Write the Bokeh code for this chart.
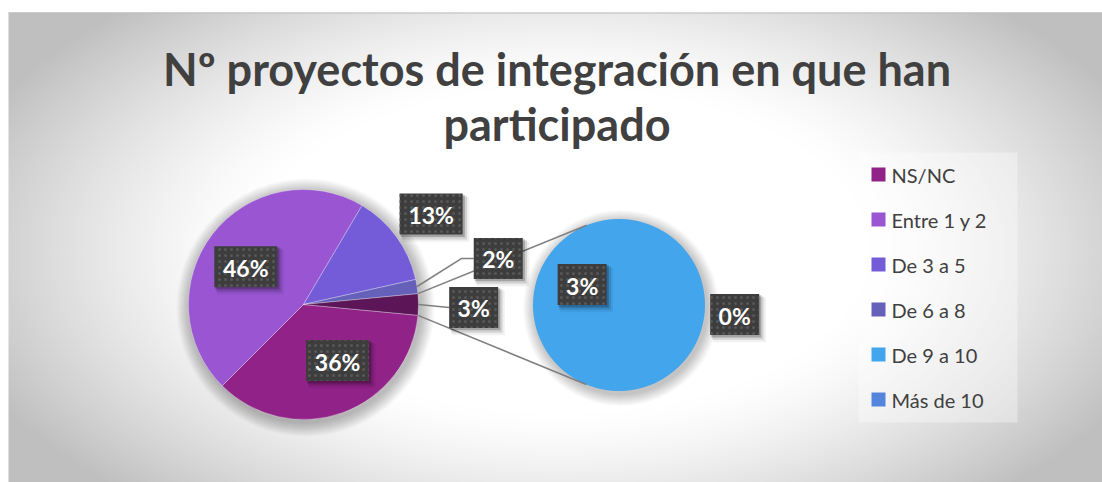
import numpy as np
from bokeh.plotting import figure
from bokeh.models import Range1d
from bokeh.embed import file_html
from bokeh.resources import INLINE
from bokeh.core.properties import value

# ---------------- data ----------------
categories = ["NS/NC", "Entre 1  y 2", "De 3  a 5", "De 6 a 8", "De 9 a 10", "Más de 10"]
percentages = [36, 46, 13, 2, 3, 0]
slice_colors = ["#912288", "#9955D2", "#745CD9", "#6561BB", "#43A5EC", "#5485DC"]
other_color = "#5C1657"
n_main = 4  # first categories in the main pie, the rest in the secondary pie
title_lines = ["Nº proyectos de integración en que han", "participado"]

# ---------------- style / layout ----------------
W, H = 1102, 482
FONT = "Lato"
TXT = "#404040"

p = figure(width=W, height=H, x_range=Range1d(0, W), y_range=Range1d(0, H),
           output_backend="svg", toolbar_location=None, min_border=0,
           x_axis_type=None, y_axis_type=None)
p.grid.visible = False
p.outline_line_color = None
p.background_fill_color = "white"
p.border_fill_color = "white"

# background radial gradient of the chart area (starts at x=8, 12px below top)
gx0, gw, gh = 8, W - 8, H - 12
yy, xx = np.mgrid[0:gh, 0:gw]
px = xx + gx0 + 0.5
py = H - (yy + 0.5)
d = np.sqrt(((px - 560) / 620.0) ** 2 + ((py - 250) / 330.0) ** 2)
t = np.clip((d - 0.5) / 0.52, 0, 1)
g = (255 - 64 * t ** 1.3).astype(np.uint32)
img = (np.uint32(255) << 24) | (g << 16) | (g << 8) | g
p.image_rgba(image=[img], x=gx0, y=0, dw=gw, dh=gh)
p.segment(x0=[gx0], y0=[gh - 0.5], x1=[W], y1=[gh - 0.5], line_color="#bdbdbd", line_width=1)

# title
title_x = 556.5
title_y = [414, 359]
p.text(x=[title_x] * len(title_lines), y=title_y, text=title_lines,
       text_font=value(FONT), text_font_style="bold", text_font_size="45px",
       text_color=TXT, text_align="center", text_baseline="middle")

# ---------------- main pie ----------------
cx1, cy1, r1 = 303.0, 178.0, 115.0
main_vals = percentages[:n_main]
other_val = sum(percentages[n_main:])
total = float(sum(main_vals) + other_val)
half = other_val / total * np.pi

starts, ends = [], []
a = -half
for v in main_vals:
    ang = v / total * 2 * np.pi
    starts.append(a - ang)
    ends.append(a)
    a -= ang
starts.append(-half)
ends.append(half)
main_colors = slice_colors[:n_main] + [other_color]
main_labels = ["%d%%" % v for v in main_vals] + ["%d%%" % other_val]
main_values = main_vals + [other_val]

# soft shadows
for k in range(1, 15):
    p.circle(x=[cx1 + 2], y=[cy1 - 3], radius=r1 + k, fill_color="black",
             fill_alpha=0.02, line_color=None)
p.wedge(x=[cx1] * len(starts), y=[cy1] * len(starts), radius=r1,
        start_angle=starts, end_angle=ends, fill_color=main_colors,
        line_color="white", line_alpha=0.5, line_width=0.6)

# ---------------- secondary pie ----------------
cx2, cy2, r2 = 618.5, 177.5, 86.0
sec_vals = percentages[n_main:]
sec_total = float(sum(sec_vals))
sec_colors = slice_colors[n_main:]
theta0 = np.deg2rad(-5)
s_starts, s_ends = [], []
a = theta0
for v in sec_vals:
    ang = v / sec_total * 2 * np.pi
    s_starts.append(a - ang)
    s_ends.append(a)
    a -= ang

for k in range(1, 13):
    p.circle(x=[cx2 + 2], y=[cy2 - 3], radius=r2 + k, fill_color="black",
             fill_alpha=0.02, line_color=None)
for s, e, c, v in zip(s_starts, s_ends, sec_colors, sec_vals):
    if v <= 0:
        continue
    if e - s >= 2 * np.pi - 1e-6:
        s = e - (2 * np.pi - 1e-3)
    p.wedge(x=[cx2], y=[cy2], radius=r2, start_angle=[s], end_angle=[e],
            fill_color=c, line_color=None)

# connector lines (tangents from the "other" slice edges to the secondary pie)
for sign in (1, -1):
    ex = cx1 + r1 * np.cos(sign * half)
    ey = cy1 + r1 * np.sin(sign * half)
    dx, dy = ex - cx2, ey - cy2
    dist = np.hypot(dx, dy)
    base = np.arctan2(dy, dx)
    phi = np.arccos(r2 / dist)
    tang = base - sign * phi
    tx = cx2 + r2 * np.cos(tang)
    ty = cy2 + r2 * np.sin(tang)
    p.line(x=[ex, tx], y=[ey, ty], line_color="#7f7f7f", line_width=1.5)


# ---------------- data labels ----------------
def draw_label(x, y, txt):
    w = 21 + 14 * len(txt)
    h = 41
    for k, al in zip((2, 4, 6), (0.22, 0.12, 0.06)):
        p.rect(x=[x + k * 0.8], y=[y - k * 0.9], width=w + k * 0.6, height=h + k * 0.6,
               fill_color="black", fill_alpha=al, line_color=None)
    p.rect(x=[x], y=[y], width=w, height=h, fill_color="#3d3d3d", line_color=None,
           hatch_pattern="dot", hatch_color="#575757", hatch_scale=6, hatch_weight=1.2)
    p.text(x=[x], y=[y - 1], text=[txt], text_font=value(FONT), text_font_style="bold",
           text_font_size="23px", text_color="white", text_align="center",
           text_baseline="middle")
    return w


# polar placement: (distance factor of radius, angle nudge in degrees)
main_place = [(0.57, 11.5), (0.60, 4.6), (1.36, -0.7), (1.74, 4.3), (1.48, -1.0)]
for s, e, txt, v, (df, nd) in zip(starts, ends, main_labels, main_values, main_place):
    mid = (s + e) / 2
    ang = mid + np.deg2rad(nd)
    lx = cx1 + df * r1 * np.cos(ang)
    ly = cy1 + df * r1 * np.sin(ang)
    w = 21 + 14 * len(txt)
    if v < 5:
        ex = cx1 + r1 * np.cos(mid)
        ey = cy1 + r1 * np.sin(mid)
        left = lx - w / 2
        if abs(ly - ey) > 8:
            p.line(x=[ex, left - 12, left], y=[ey, ly, ly], line_color="#7f7f7f", line_width=1.5)
        else:
            p.line(x=[ex, left], y=[ey, ly], line_color="#7f7f7f", line_width=1.5)
    draw_label(lx, ly, txt)

sec_place = [(0.49, -24.0), (1.35, 0.3)]
for s, e, v, (df, nd) in zip(s_starts, s_ends, sec_vals, sec_place):
    mid = (s + e) / 2
    ang = mid + np.deg2rad(nd)
    lx = cx2 + df * r2 * np.cos(ang)
    ly = cy2 + df * r2 * np.sin(ang)
    draw_label(lx, ly, "%d%%" % v)

# ---------------- legend ----------------
p.rect(x=[937.5], y=[195], width=159, height=270, fill_color="white", fill_alpha=0.35,
       line_color=None)
leg_top = 308
leg_step = 45
leg_y = [leg_top - i * leg_step for i in range(len(categories))]
p.scatter(x=[878] * len(categories), y=leg_y, marker="square", size=14,
          fill_color=slice_colors, line_color=None)
p.text(x=[891] * len(categories), y=leg_y, text=categories, text_font=value(FONT),
       text_font_size="20px", text_color=TXT, text_align="left", text_baseline="middle")

open("out.html", "w").write(file_html(p, INLINE))
